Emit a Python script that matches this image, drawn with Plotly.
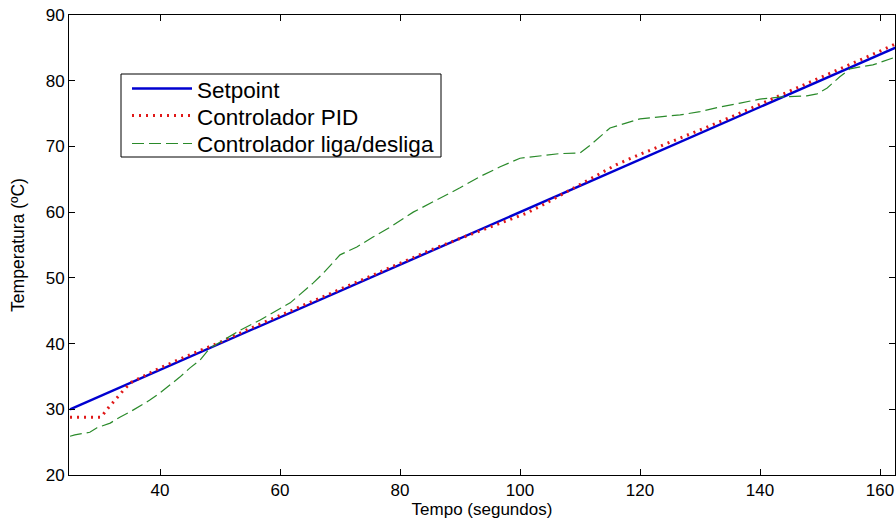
import plotly.graph_objects as go

# ---- data ----
series_names = ["Setpoint", "Controlador PID", "Controlador liga/desliga"]

t_setpoint = [25, 50, 75, 100, 125, 150, 162.6]
setpoint = [30.0, 40.0, 50.0, 60.0, 70.0, 80.0, 85.04]

t_pid = [25, 27.5, 30.2, 31.0, 32.0, 33.0, 34.0, 35.2, 40, 45, 50, 55, 60, 65, 70,
         75, 80, 85, 90, 95, 98, 101, 104, 107, 110, 113, 116, 120, 125, 130, 135,
         140, 145, 150, 155, 160, 162.6]
pid = [28.8, 28.8, 28.8, 29.8, 30.9, 31.9, 33.0, 34.1, 36.3, 38.3, 40.2, 42.3, 44.3,
       46.3, 48.3, 50.3, 52.3, 54.2, 56.0, 57.7, 58.7, 59.8, 61.2, 62.7, 64.2, 65.8,
       67.2, 68.8, 70.6, 72.5, 74.4, 76.4, 78.4, 80.4, 82.4, 84.5, 85.6]

t_onoff = [25, 25.8, 28.3, 29.5, 31.7, 33.3, 35, 36.7, 38.3, 40, 41.7, 43.3, 45, 46.7,
           48.3, 50, 53.3, 56.7, 61.7, 65.5, 67.2, 70, 72.8, 75.5, 78.3, 82.2, 86.2,
           90, 93.3, 96.7, 100, 103.3, 106.5, 110, 111.7, 115, 116.7, 120, 123.3,
           126.7, 130, 133.3, 136.7, 140, 143.3, 147.8, 149.5, 151.2, 153.3, 155,
           156.7, 158.8, 162.6]
onoff = [25.9, 26.1, 26.5, 27.2, 27.9, 28.8, 29.6, 30.5, 31.4, 32.5, 33.7, 34.9, 36.3,
         37.5, 39.3, 40.2, 42.0, 43.6, 46.2, 49.2, 50.7, 53.5, 54.7, 56.2, 57.7, 60.0,
         61.9, 63.7, 65.4, 66.9, 68.2, 68.5, 68.9, 69.0, 70.2, 72.8, 73.3, 74.2, 74.5,
         74.8, 75.3, 76.0, 76.6, 77.2, 77.5, 77.7, 78.0, 78.9, 80.6, 81.8, 82.1, 82.4,
         83.6]

x_ticks = [40, 60, 80, 100, 120, 140, 160]
y_ticks = [20, 30, 40, 50, 60, 70, 80, 90]

# ---- styling ----
FONT = "Liberation Sans, Arial, sans-serif"
styles = [
    dict(color="#0000d0", width=2.4),
    dict(color="#e01818", width=3, dash="2px,5px"),
    dict(color="#2a8a2a", width=1.2, dash="12px,5px"),
]

W, H = 896, 521
ML, MR, MT, MB = 69, 1, 15, 46
PW, PH = W - ML - MR, H - MT - MB


def px(xp):
    return (xp - ML) / PW


def py(yp):
    return (H - MB - yp) / PH


fig = go.Figure()
for name, xs, ys, st in zip(series_names, [t_setpoint, t_pid, t_onoff],
                            [setpoint, pid, onoff], styles):
    fig.add_trace(go.Scatter(x=xs, y=ys, mode="lines", name=name, line=st,
                             showlegend=False))

axis_common = dict(showline=True, linecolor="black", linewidth=1, mirror="ticks",
                   ticks="inside", ticklen=6, tickcolor="black", showgrid=False,
                   zeroline=False, tickfont=dict(family=FONT, size=17, color="black"))

# ---- legend box (MATLAB style) ----
shapes = [dict(type="rect", xref="paper", yref="paper",
               x0=px(121), x1=px(441), y0=py(157), y1=py(74),
               line=dict(color="black", width=1), fillcolor="white", layer="above")]
annotations = []
line_y = [88.5, 115.5, 143.5]
text_y = [90.5, 117.5, 144]
for name, st, ly, ty in zip(series_names, styles, line_y, text_y):
    shapes.append(dict(type="line", xref="paper", yref="paper",
                       x0=px(132), x1=px(192), y0=py(ly), y1=py(ly),
                       line=st, layer="above"))
    annotations.append(dict(xref="paper", yref="paper", x=px(195), y=py(ty),
                            xanchor="left", yanchor="middle", text=name,
                            showarrow=False,
                            font=dict(family=FONT, size=22.5, color="black")))

fig.update_layout(
    width=W, height=H,
    margin=dict(l=ML, r=MR, t=MT, b=MB),
    paper_bgcolor="white", plot_bgcolor="white",
    font=dict(family=FONT, color="black"),
    xaxis=dict(range=[24.83, 162.5], tickvals=x_ticks,
               title=dict(text="Tempo (segundos)", font=dict(family=FONT, size=17), standoff=2),
               **axis_common),
    yaxis=dict(range=[20, 90], tickvals=y_ticks,
               title=dict(text="Temperatura (ºC)", font=dict(family=FONT, size=17.5), standoff=16),
               **axis_common),
    shapes=shapes,
    annotations=annotations,
    showlegend=False,
)

fig.write_html("out.html", post_script="document.body.style.margin='0';",
               config={"displayModeBar": False})
